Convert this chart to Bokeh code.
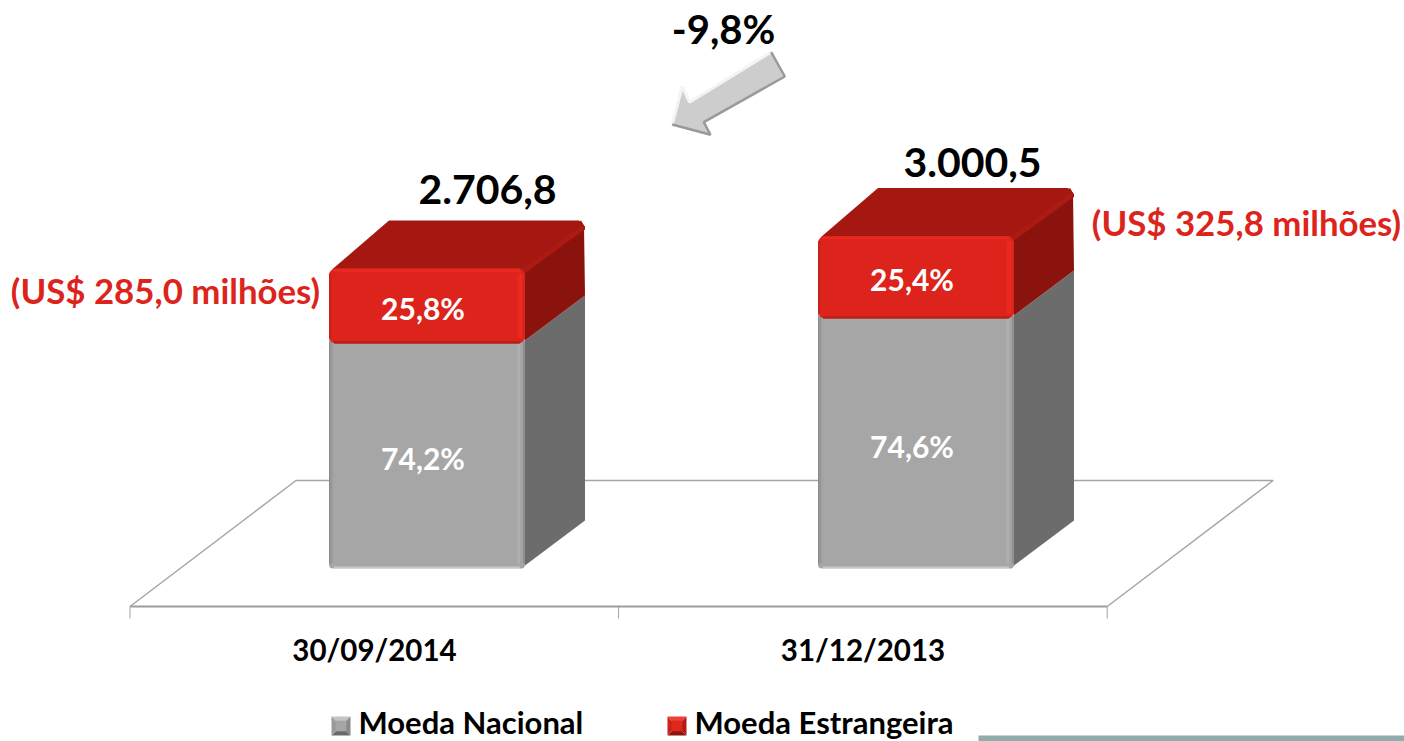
from bokeh.plotting import figure
from bokeh.embed import file_html
from bokeh.resources import INLINE
from bokeh.core.properties import value

# ---- data ----
categories = ["30/09/2014", "31/12/2013"]
nacional_values = [2031, 2256]
estrangeira_values = [676, 745]
total_labels = ["2.706,8", "3.000,5"]
nacional_labels = ["74,2%", "74,6%"]
estrangeira_labels = ["25,8%", "25,4%"]
usd_labels = ["(US$ 285,0 milhões)", "(US$ 325,8 milhões)"]
variation_label = "-9,8%"
series_names = ["Moeda Nacional", "Moeda Estrangeira"]

# ---- scale set-up ----
W, H = 1404, 741
PX_PER_CAT = 488.6
PX_PER_VAL = 0.1108
X0_SCREEN, Y0_SCREEN = 129.5, 568.0
FONT = value("Lato")


def sx(px):
    return (px - X0_SCREEN) / PX_PER_CAT


def sy(py):
    return (Y0_SCREEN - py) / PX_PER_VAL


def dx(px):
    return px / PX_PER_CAT


def dy(py):
    return py / PX_PER_VAL


p = figure(width=W, height=H, x_range=(sx(0), sx(W)), y_range=(sy(H), sy(0)),
           toolbar_location=None, output_backend="svg", min_border=0,
           outline_line_color=None, background_fill_color="white", border_fill_color="white")
p.xaxis.visible = False
p.yaxis.visible = False
p.grid.visible = False

# ---- floor ----
FLOOR_Y = sy(606)
BACK_Y = sy(480)
FLOOR_DX = dx(166)
TICK = dy(12)
n = len(categories)
p.line([0, n], [FLOOR_Y, FLOOR_Y], line_color="#9c9c9c", line_width=2)
p.line([0, FLOOR_DX, n + FLOOR_DX, n], [FLOOR_Y, BACK_Y, BACK_Y, FLOOR_Y], line_color="#a6a6a6", line_width=1.5)
p.segment(list(range(n + 1)), [FLOOR_Y] * (n + 1), list(range(n + 1)), [FLOOR_Y - TICK] * (n + 1),
          line_color="#a0a0a0", line_width=1)
p.text([sx(374), sx(862.5)], [sy(649)] * n, text=categories, text_font=FONT, text_font_style="bold",
       text_font_size="29.5px", text_align="center", text_baseline="middle", text_color="black")

# ---- 3D stacked bars ----
BAR_W = dx(196)
DEPTH_X = dx(60)
DEPTH_Y = dy(48)
CENTERS = [sx(426.5), sx(915.5)]


def bands(l, r, b, t, base, radius, left, right, bottom, top=None):
    """front face with bevel strips built from stacked quads"""
    p.quad(left=[l], right=[r], bottom=[b], top=[t], fill_color=base, line_color=None, border_radius=radius)
    for i, c in enumerate(left):
        p.quad(left=[l + dx(i * 1.5)], right=[l + dx((i + 1) * 1.5)], bottom=[b + dy(5)], top=[t - dy(5)], fill_color=c, line_color=None)
    for i, c in enumerate(right):
        p.quad(left=[r - dx((i + 1) * 2.5)], right=[r - dx(i * 2.5)], bottom=[b + dy(5)], top=[t - dy(5)], fill_color=c, line_color=None)
    for i, c in enumerate(bottom):
        p.quad(left=[l + dx(5)], right=[r - dx(5)], bottom=[b + dy(i * 1.3)], top=[b + dy((i + 1) * 1.3)], fill_color=c, line_color=None)
    if top:
        for i, c in enumerate(top):
            p.quad(left=[l + dx(5)], right=[r - dx(5)], bottom=[t - dy((i + 1) * 1.5)], top=[t - dy(i * 1.5)], fill_color=c, line_color=None)


for i in range(n):
    c = CENTERS[i]
    g_top = nacional_values[i]
    tot = nacional_values[i] + estrangeira_values[i]
    l, r = c - BAR_W / 2, c + BAR_W / 2
    # gray side
    p.patch([r - dx(4), r + DEPTH_X, r + DEPTH_X, r - dx(4)], [0, DEPTH_Y, g_top + DEPTH_Y, g_top], fill_color="#6c6c6c", line_color=None)
    # red side + top
    p.patch([r - dx(4), r + DEPTH_X, r + DEPTH_X - dx(1), r + DEPTH_X - dx(4), r - dx(4)],
            [g_top, g_top + DEPTH_Y, tot + DEPTH_Y - dy(5), tot + DEPTH_Y, tot],
            fill_color="#8a130e", line_color=None)
    p.patch([l + dx(3), l + DEPTH_X, r + DEPTH_X - dx(6), r + DEPTH_X, r + DEPTH_X, r - dx(2)],
            [tot - dy(1), tot + DEPTH_Y, tot + DEPTH_Y, tot + DEPTH_Y - dy(6), tot + DEPTH_Y - dy(9), tot - dy(1)],
            fill_color="#a51812", line_color=None)
    p.line([r - dx(2), r + DEPTH_X - dx(2)], [tot - dy(3), tot + DEPTH_Y - dy(7)], line_color="#ad1a14", line_width=5)
    # gray front (runs a little under the red block, whose corners are rounded)
    bands(l, r, 0, g_top + dy(7), "#a6a6a6", (0, 0, 4, 4),
          ["#8a8a8a", "#969696", "#a0a0a0"],
          ["#909090", "#a6a6a6", "#b0b0b0"],
          ["#d8d8d8", "#b8b8b8"])
    # red front
    bands(l, r, g_top, tot, "#dc241c", 7,
          ["#c4201a", "#d4221b"],
          ["#d8241c", "#ec2a22", "#ea281f"],
          ["#a81c16", "#c4201a"],
          ["#e4261e", "#ec2a22"])

LABEL_SHIFT = dx(-4)
p.text([c + LABEL_SHIFT for c in CENTERS], [g / 2 for g in nacional_values],
       text=nacional_labels, text_font=FONT, text_font_style="bold", text_font_size="30px",
       text_align="center", text_baseline="middle", text_color="white", y_offset=2)
p.text([c + LABEL_SHIFT for c in CENTERS], [g + e / 2 for g, e in zip(nacional_values, estrangeira_values)],
       text=estrangeira_labels, text_font=FONT, text_font_style="bold", text_font_size="30px",
       text_align="center", text_baseline="middle", text_color="white", y_offset=2)
p.text([sx(487), sx(972)], [sy(188.5), sy(161.5)], text=total_labels,
       text_font=FONT, text_font_style="bold", text_font_size="41px", text_align="center",
       text_baseline="middle", text_color="black")
p.text([sx(165), sx(1246)], [sy(290), sy(222)], text=usd_labels, text_font=FONT, text_font_style="bold",
       text_font_size="34.8px", text_align="center", text_baseline="middle", text_color="#dc241c")

# ---- arrow annotation ----
ARROW_X = [770.7, 784.3, 703.3, 710.0, 671.7, 681.7, 689.0]
ARROW_Y = [51.7, 76.0, 121.7, 134.3, 124.0, 86.0, 101.7]
ax = [sx(v) for v in ARROW_X]
ay = [sy(v) for v in ARROW_Y]
p.patch(ax, ay, fill_color="#cdcdcd", line_color=None)
p.line([ax[4], ax[5], ax[6], ax[0]], [ay[4], ay[5], ay[6], ay[0]], line_color="#f4f4f4", line_width=3)
p.line([ax[0], ax[1], ax[2], ax[3], ax[4]], [ay[0], ay[1], ay[2], ay[3], ay[4]], line_color="#9a9a9a", line_width=2.5)
p.text([sx(723)], [sy(28)], text=[variation_label], text_font=FONT, text_font_style="bold", text_font_size="40px",
       text_align="center", text_baseline="middle", text_color="black")


# ---- legend ----
def legend_marker(x0, y0, size, cols):
    x1, y1, xc, yc = x0 + size, y0 + size, x0 + size / 2, y0 + size / 2
    pts = [[(x0, y0), (x1, y0)], [(x1, y0), (x1, y1)], [(x1, y1), (x0, y1)], [(x0, y1), (x0, y0)]]
    for (a, b), col in zip(pts, cols):
        p.patch([sx(a[0]), sx(b[0]), sx(xc)], [sy(a[1]), sy(b[1]), sy(yc)], fill_color=col, line_color=None)
    s = size * 0.28
    p.quad(left=[sx(xc - s)], right=[sx(xc + s)], bottom=[sy(yc + s)], top=[sy(yc - s)], fill_color=cols[4], line_color=None)


legend_marker(331, 716, 19, ["#c4c4c4", "#8a8a8a", "#6a6a6a", "#9a9a9a", "#a6a6a6"])
legend_marker(667, 716, 19, ["#ee4038", "#b01c16", "#8e1410", "#c8221a", "#e0281f"])
p.text([sx(358), sx(694)], [sy(721.5), sy(721.5)], text=series_names, text_font=FONT, text_font_style="bold",
       text_font_size="31px", text_align="left", text_baseline="middle", text_color="black")

# ---- strip along the bottom edge of the slide ----
p.quad(left=[sx(978)], right=[sx(1404)], bottom=[sy(741)], top=[sy(735)], fill_color="#90adad", line_color=None)

open("out.html", "w").write(file_html(p, INLINE))
